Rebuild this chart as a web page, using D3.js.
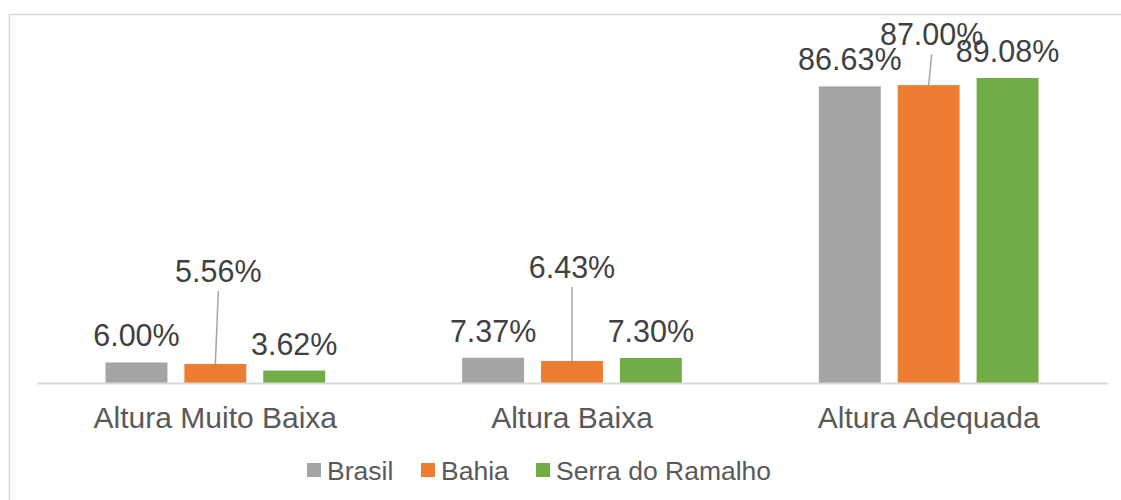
<!DOCTYPE html>
<html>
<head>
<meta charset="utf-8">
<script src="https://cdn.jsdelivr.net/npm/d3@7"></script>
<style>
  body { margin: 0; background: #fff; }
  svg { display: block; font-family: "Liberation Sans", Arial, sans-serif; }
</style>
</head>
<body>
<svg id="chart" width="1121" height="500"></svg>
<script>
// data
const categories = ["Altura Muito Baixa", "Altura Baixa", "Altura Adequada"];
const seriesNames = ["Brasil", "Bahia", "Serra do Ramalho"];
const brasil = [0.0600, 0.0737, 0.8663];
const bahia = [0.0556, 0.0643, 0.8700];
const serra = [0.0362, 0.0730, 0.8908];
const seriesValues = [brasil, bahia, serra];

const colors = ["#A5A5A5", "#ED7D31", "#70AD47"];

// labels that were dragged away from their bar in the original (series, category, dx, dy)
const movedLabels = [
    { s: 1, c: 0, dx: 3, dy: -66 },
    { s: 1, c: 1, dx: 0, dy: -67 },
    { s: 1, c: 2, dx: 3, dy: -24 }
];

const svg = d3.select("#chart");
const margin = { left: 37, right: 14, top: 40.6, bottom: 117 };
const width = 1121, height = 500;

svg.append("rect")
    .attr("x", 9.5).attr("y", 14.5)
    .attr("width", 1125).attr("height", 500)
    .attr("fill", "none")
    .attr("stroke", "#D9D9D9")
    .attr("stroke-width", 1.5);

const x0 = d3.scaleBand()
    .domain(categories)
    .range([margin.left, width - margin.right])
    .paddingInner(0)
    .paddingOuter(0);

const x1 = d3.scaleBand()
    .domain(seriesNames)
    .range([68.5, x0.bandwidth() - 68.5])
    .paddingInner(0.215);

const y = d3.scaleLinear()
    .domain([0, 1])
    .range([height - margin.bottom, margin.top]);

const rows = [];
categories.forEach((c, ci) => {
    seriesNames.forEach((s, si) => {
        rows.push({ c: c, ci: ci, s: s, si: si, value: seriesValues[si][ci] });
    });
});

// bars
svg.append("g").selectAll("rect")
    .data(rows)
    .enter().append("rect")
    .attr("x", d => x0(d.c) + x1(d.s))
    .attr("y", d => y(d.value))
    .attr("width", x1.bandwidth())
    .attr("height", d => y(0) - y(d.value))
    .attr("fill", d => colors[d.si]);

// x axis
const xAxis = svg.append("g")
    .attr("transform", `translate(0,${y(0)})`)
    .call(d3.axisBottom(x0).tickSize(0).tickPadding(24));
xAxis.select(".domain").attr("stroke", "#D9D9D9").attr("stroke-width", 2);
xAxis.selectAll("text")
    .attr("fill", "#595959")
    .style("font-size", "30px")
    .style("font-family", "'Liberation Sans', Arial, sans-serif");

// data labels
const fmt = d3.format(".2%");
function labelPos(d) {
    const m = movedLabels.find(o => o.s === d.si && o.c === d.ci);
    const cx = x0(d.c) + x1(d.s) + x1.bandwidth() / 2;
    const by = y(d.value) - 16;
    return m ? { x: cx + m.dx, y: by + m.dy, moved: true, cx: cx } : { x: cx, y: by, moved: false, cx: cx };
}

svg.append("g").selectAll("line")
    .data(rows.filter(d => labelPos(d).moved))
    .enter().append("line")
    .attr("x1", d => labelPos(d).x)
    .attr("y1", d => labelPos(d).y + 9)
    .attr("x2", d => labelPos(d).cx)
    .attr("y2", d => y(d.value))
    .attr("stroke", "#A6A6A6")
    .attr("stroke-width", 1.5);

svg.append("g").selectAll("text")
    .data(rows)
    .enter().append("text")
    .attr("x", d => labelPos(d).x)
    .attr("y", d => labelPos(d).y)
    .attr("text-anchor", "middle")
    .attr("fill", "#404040")
    .style("font-size", "30.5px")
    .text(d => fmt(d.value));

// legend
const legendX = [307, 421, 536];
const legend = svg.append("g").selectAll("g")
    .data(seriesNames)
    .enter().append("g")
    .attr("transform", (d, i) => `translate(${legendX[i]},463)`);
legend.append("rect")
    .attr("width", 14).attr("height", 14)
    .attr("fill", (d, i) => colors[i]);
legend.append("text")
    .attr("x", 20).attr("y", 16.5)
    .attr("fill", "#595959")
    .style("font-size", "26.5px")
    .text(d => d);
</script>
</body>
</html>
